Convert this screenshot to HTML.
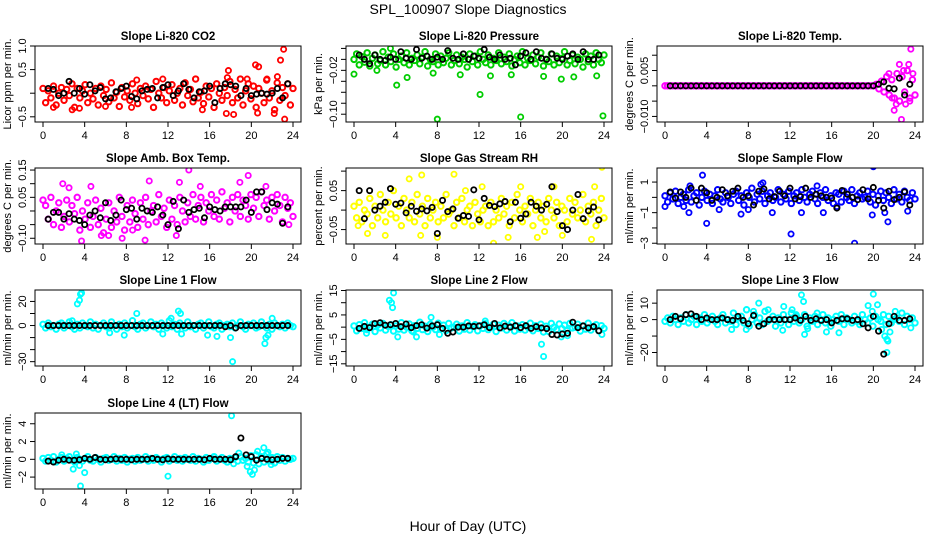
<!DOCTYPE html>
<html><head><meta charset="utf-8"><style>
body{margin:0;background:#fff}
svg{display:block;font-family:"Liberation Sans",sans-serif}
</style></head><body>
<svg id="chart" width="936" height="540" viewBox="0 0 936 540" xmlns="http://www.w3.org/2000/svg">
<rect width="936" height="540" fill="#fff"/>
<text x="468" y="14" text-anchor="middle" font-size="14">SPL_100907  Slope Diagnostics</text>
<text x="468" y="531" text-anchor="middle" font-size="14">Hour of Day (UTC)</text>
</svg>
<script>
const xTicks=[0,4,8,12,16,20,24];
// Panel 1 CO2
const p1Band=[0.1,-0.2,0.05,-0.1,0.15,-0.25,0,0.12,-0.15,0.08,-0.05,0.2,-0.3,0.1,-0.1,0.05,0.18,-0.2,0,-0.12,0.1,-0.25,0.15,-0.05,0.08,-0.18,0.22,-0.1,0.02,-0.28,0.12,-0.08,0.05,-0.15,0.2,0,-0.22,0.1,-0.05,0.15,-0.12,0.08,-0.3,0.25,0,-0.1,0.12,-0.2,0.05,0.18,-0.15,0,0.1,-0.25,0.22,-0.05,0.08,-0.18,0.3,-0.1,0.02,-0.22,0.15,-0.08,0.1,-0.3,0.2,0,-0.15,0.12,-0.05,0.25,-0.2,0.08,-0.1,0.3,-0.25,0.05,0.2,-0.12,0.15,-0.3,0.1,0,-0.2,0.28,-0.1,0.05,-0.35,0.22,-0.15,0.12,-0.05,0.2,-0.25,0.1];
const p1Out=[[17.8,0.48],[17.7,0.33],[20.4,0.6],[20.7,0.56],[22.8,0.7],[23.1,0.93],[23.2,-0.55],[17.6,-0.43],[18.3,-0.45],[20.6,-0.42],[22.2,-0.43],[15.3,-0.35],[2.8,-0.35],[1,-0.3],[3.5,-0.32],[11.5,0.3],[9,0.28],[21.5,0.3],[22.5,0.35],[8.5,-0.3],[6,-0.28],[19.6,0.3]];
const p1Ref=[0.1,0.08,-0.05,0,0.25,0,0.1,-0.02,0.18,0.05,0.12,-0.12,-0.1,0.03,0.1,0.15,-0.07,-0.12,0.05,0.08,0.1,-0.1,0.12,0.18,-0.05,0.05,0.2,0.08,-0.1,0.03,0.05,0.15,-0.2,0.1,0.2,0.18,0.15,-0.05,0.1,-0.05,-0.02,0,-0.02,0,0.1,-0.1,0.2];
// Panel 2 Pressure
const p2Band=[0,0.01,-0.01,0.005,-0.005,0.012,-0.012,0.002,0.008,-0.008,-0.002,0.014,-0.01,0.004,-0.004,0.01,-0.014,0,0.006,-0.006,0.012,-0.01,0.002,-0.002,0.008,-0.008,0.004,0.014,-0.012,0,-0.004,0.01,-0.01,0.006,-0.006,0.002,0.012,-0.01,-0.002,0.008,-0.008,0.004,0,-0.014,0.01,-0.004,0.006,-0.01,0.014,0,-0.006,0.008,-0.01,0.002,-0.002,0.012,-0.008,0.004,-0.004,0.01,-0.012,0,0.006,-0.006,0.014,-0.01,0.002,-0.002,0.008,-0.008,0.004,0.012,-0.012,0,-0.004,0.01,-0.01,0.006,-0.006,0.002,0.014,-0.01,-0.002,0.008,-0.008,0.004,0,-0.014,0.01,-0.004,0.006,-0.01,0.012,0,-0.006,0.008];
const p2Out=[[0,-0.027],[4.1,-0.047],[5.1,-0.033],[8,-0.109],[12.1,-0.064],[16,-0.105],[19.9,-0.036],[23.9,-0.103],[13.1,-0.03],[21.1,-0.032],[23.3,-0.03],[15.1,-0.028],[18.2,-0.031],[10.2,-0.028],[7.6,-0.025],[3.5,0.02],[2.2,-0.02]];
const p2Ref=[0.008,0,-0.008,0.008,0,-0.002,0.004,0,0.014,0.002,0,0.018,0.002,0.006,0,0.004,0,0.016,0.002,0,0.01,0,0.006,0.002,0.018,0.004,0,0.008,0,0.002,-0.01,0.006,0.012,0,0.014,0.002,0,0.01,0.002,0,0.006,0.01,0,0.014,0,0,0.008];
// Panel 3 Temp
const p3Band=[0,0,0,0,0,0,0,0,0,0,0,0,0,0,0,0,0,0,0,0,0,0,0,0,0,0,0,0,0,0,0,0,0,0,0,0,0,0,0,0,0,0,0,0,0,0,0,0,0,0,0,0,0,0,0,0,0,0,0,0,0,0,0,0,0,0,0,0,0,0,0,0,0,0,0,0,0,0,0,0,0,0,0.0005,-0.001,0.0015,-0.002,0.003,-0.003,0.002,-0.004,0.004,-0.005,0.003,-0.002,0.005,-0.004,0.002,-0.003];
const p3Out=[[23.6,0.012],[22.7,-0.011],[22,-0.008],[23.4,0.007],[22.5,0.007],[21.5,0.004],[22.2,-0.006],[23.1,-0.006],[23.8,0.004],[21.8,-0.004],[22.9,0.005],[23.5,-0.005]];
const p3Ref=[0,0,0,0,0,0,0,0,0,0,0,0,0,0,0,0,0,0,0,0,0,0,0,0,0,0,0,0,0,0,0,0,0,0,0,0,0,0,0,0,0.0005,0.0013,-0.0008,-0.001,0.0025,-0.003,0.0005];
// Panel 4 Amb Box Temp
const p4Band=[0.04,0.02,-0.03,0.05,-0.05,0.0,0.03,-0.06,-0.02,0.04,-0.04,0.02,-0.01,0.05,-0.07,0.0,-0.03,0.03,-0.06,-0.02,0.04,-0.05,0.01,-0.08,-0.03,0.03,-0.06,0.0,-0.04,0.05,-0.02,-0.07,0.02,-0.04,0.04,-0.01,-0.06,0.03,-0.03,0.05,-0.05,0.0,0.02,-0.04,0.06,-0.02,0.01,-0.06,0.04,-0.03,0.02,-0.05,0.05,0.0,-0.04,0.03,-0.02,0.06,-0.03,0.02,0.05,-0.04,0.03,0.0,0.06,-0.02,0.04,-0.03,0.07,0.01,0.03,-0.04,0.05,0.0,0.06,-0.02,0.04,0.02,-0.03,0.06,0.01,0.05,-0.02,0.07,0.02,0.04,-0.03,0.05,0.0,0.06,0.02,-0.04,0.05,0.01,0.03,-0.02];
const p4Out=[[3.7,-0.11],[9.8,-0.107],[7.6,-0.1],[14,0.15],[19.7,0.13],[10.2,0.11],[13.1,0.105],[1.9,0.1],[2.5,0.085],[4.6,0.09],[18.9,0.105],[21.4,0.09],[15.1,0.09],[5.6,-0.09],[6.3,-0.09],[12.8,-0.09],[23.6,-0.05],[8.6,-0.07]];
const p4Ref=[-0.03,-0.005,-0.005,-0.03,-0.01,-0.03,-0.035,-0.05,-0.015,0.0,-0.025,0.03,-0.035,-0.015,0.04,0.005,0.01,-0.03,0.01,0.0,-0.005,0.015,-0.015,-0.05,0.035,-0.065,0.04,-0.005,0.005,0.01,-0.025,0.015,0.005,0.0,0.015,0.015,0.015,0.015,0.04,-0.005,0.07,0.07,0.005,0.03,0.025,-0.045,0.015];
// Panel 5 RH
const p5Band=[0.01,-0.02,0.02,-0.03,0.0,-0.01,0.03,-0.04,0.01,-0.02,0.04,0.0,-0.03,0.02,-0.01,0.05,-0.02,0.01,-0.04,0.03,0.0,-0.02,0.02,-0.03,0.04,-0.01,0.01,-0.04,0.03,-0.02,0.0,0.02,-0.03,0.01,-0.02,0.04,-0.01,0.0,-0.04,0.02,-0.02,0.03,-0.03,0.0,0.01,-0.04,0.02,-0.01,-0.03,0.0,0.01,-0.04,0.02,-0.03,0.0,-0.02,0.03,-0.01,0.01,-0.04,0.02,-0.02,0.04,0.0,-0.03,0.01,-0.01,0.03,-0.04,0.0,0.02,-0.02,0.01,-0.03,0.03,0.0,-0.02,0.02,-0.04,0.01,0.0,-0.03,0.03,-0.01,0.02,-0.02,0.0,0.04,-0.03,0.01,-0.01,0.02,-0.04,0.0,0.03,-0.02];
const p5Out=[[13.4,-0.085],[23.8,0.11],[6.5,0.09],[9.6,0.092],[5.3,0.08],[8.0,-0.07],[14.8,-0.07],[17.6,-0.07],[22.8,-0.075],[1.3,-0.06],[3.0,-0.065],[23.1,0.06],[19.2,0.06],[16,0.06],[12.3,0.06],[10.7,0.05],[0.4,-0.04],[6.4,-0.065],[20.0,-0.065],[18.3,-0.055]];
const p5Ref=[0.05,-0.022,0.05,-0.0,0.01,0.02,0.055,0.015,0.018,-0.007,0.01,-0.003,0.003,-0.002,0.007,-0.06,0.025,-0.004,0.003,-0.021,-0.014,-0.016,0.052,-0.025,0.03,0.012,0.009,0.016,0.022,-0.03,0.02,-0.021,-0.01,0.02,0.01,0.0,0.015,0.06,-0.004,-0.04,-0.05,0.0,0.04,-0.022,-0.002,0.008,-0.025];
// Panel 6 Sample flow
const p6Band=[0.1,-0.3,0.3,-0.1,0.4,-0.4,0.0,0.2,-0.2,0.5,-0.3,0.1,0.3,-0.5,0.0,0.4,-0.2,0.2,-0.4,0.1,0.5,-0.1,-0.3,0.3,0.0,-0.4,0.2,0.4,-0.2,0.1,-0.5,0.3,0.0,0.6,-0.3,0.2,-0.1,0.4,-0.4,0.1,0.3,-0.2,0.0,0.5,-0.3,0.2,-0.1,0.4,-0.4,0.1,0.3,-0.2,0.5,0.0,-0.3,0.2,0.4,-0.1,-0.4,0.3,0.0,0.5,-0.2,0.1,-0.4,0.3,0.2,-0.3,0.4,0.0,-0.2,0.5,-0.4,0.1,0.3,-0.1,0.0,0.4,-0.3,0.2,-0.5,0.1,0.4,-0.2,0.3,0.0,-0.4,0.5,-0.1,0.2,-0.3,0.4,0.0,-0.2,0.3,-0.1];
const p6Out=[[3.6,1.45],[4.0,-1.7],[2.3,-1.0],[12.1,-2.4],[18.2,-3.0],[20,2.0],[21.4,-1.6],[15.2,-1.0],[13.1,-1.0],[10.3,-1.0],[7.3,-1.1],[8.0,-0.8],[5.2,-0.8],[19.9,-1.15],[21.1,-1.0],[23.3,-0.9],[9.4,0.95],[9.2,0.85],[2.4,0.75],[14.6,0.75],[0,-0.6],[1.8,-0.6],[16.5,-0.6]];
const p6Ref=[0.35,-0.05,0.35,0.0,0.6,-0.2,0.6,0.3,-0.2,0.0,0.5,0.1,0.4,0.6,0.0,0.1,-0.5,0.4,0.55,-0.1,0.05,0.4,0.1,0.6,-0.1,0.05,0.6,0.0,0.2,0.1,0.0,-0.05,-0.7,0.45,0.2,0.0,-0.15,0.5,-0.1,0.65,-0.2,-0.7,0.4,-0.15,0.0,0.35,-0.5];
// Panel 7 Line 1
const p7Band=[1,-2,2,-1,0,-3,1,2,-2,0,3,-1,-3,1,-2,2,0,-1,3,-2,1,-3,0,2,-1,-2,3,0,-3,1,-1,2,-2,0,4,-1,-3,1,2,-2,0,3,-1,1,-3,2,0,-2,4,-1,1,-3,2,0,-2,3,-1,0,-3,1,2,-2,0,3,-1,-2,1,2,-3,0,1,-1,2,-2,0,3,-1,-3,1,0,2,-2,-1,3,0,-2,1,-3,2,0,-1,1,-2,2,0,-1];
const p7Out=[[3.3,18],[3.5,21],[3.7,27],[3.6,26],[18.2,-30],[21.3,-15],[21.4,-10],[21.6,-8],[13,12],[13.2,10],[9,10],[7.8,-8],[18,-10],[15.8,-8],[16.7,-9],[11.5,-7],[13.3,-7],[12.3,6],[22,6],[2.8,4],[6.4,-6]];
const p7Ref=[0,0,0,0,0,0,0,0,0,0,0,0,0,0,0,0,0,0,0,0,0,0,0,0,0,0,0,0,0,0,0,0,0,0,-1,0,-2,0,0,0,0,0,0,0,0,0,0];
// Panel 8 Line 2
const p8Band=[0.5,-1.5,1,-0.5,1.8,-1,0,1.2,-1.8,0.8,-0.3,1.5,-1.2,0.3,1,-1.6,0.5,-0.8,1.8,-1.2,0,1.3,-1.5,0.6,-0.5,2,-1,0.4,-1.8,1.2,0,-1,1.6,-0.6,0.8,-1.4,1.5,-0.3,0,1.2,-1.6,0.5,-0.8,1.8,-1.2,0.3,1,-1.5,0.6,-0.5,1.4,-1,0,1.2,-1.8,0.8,-0.3,1.5,-1.2,0.4,1.8,-1.6,0.5,-0.8,1,-1.2,0,1.6,-1.5,0.6,-0.5,1.2,-2,0.4,-1.8,1.5,0,-1,1.3,-0.6,0.8,-1.4,1.5,-0.3,0,1.2,-1.6,0.5,-0.8,1.6,-1.2,0.3,1,-1.5,0.6,-0.5];
const p8Out=[[3.4,11],[3.6,10],[3.7,8],[3.8,14],[18,-7],[18.2,-12],[4.2,-4],[6,-4],[7.4,4],[12.6,2.5],[8.2,-3],[19.9,-4],[23.8,-3],[5.7,-2],[1.2,-2.5],[20.5,-3.5]];
const p8Ref=[-0.5,0.3,-0.2,1.5,1.8,0.8,1,1.5,0.2,1.3,-0.2,0.6,1,-0.4,0.5,1,-0.5,-2.5,-2,0,0,0.5,0.3,0.5,1,-0.2,1.5,-0.3,0.4,0,0.6,-0.2,0.6,-0.5,0.2,-0.3,-0.6,-3,-3.2,-2.8,-2.5,2,-0.2,0.5,-0.3,0.2,-1.5];
// Panel 9 Line 3
const p9Band=[-1,1,-2,2,0,-3,1,-1,3,-2,0,2,-3,1,-1,3,-2,0,2,-1,-3,1,3,-2,0,-1,4,-3,1,2,-2,6,-4,0,3,-2,1,-3,5,-1,0,2,-4,1,-2,3,0,-3,4,-1,2,-2,0,3,-4,1,-1,2,-3,0,3,-2,1,-4,0,2,-1,3,-3,1,0,-2,2,-1,-3,3,0,-2,1,-4,2,0,-1,3,-3,2,-2,0,1,-1,4,-3,2,0,1,-2];
const p9Out=[[7.8,-6],[8.5,5],[9,10],[9.9,6],[11.4,8],[12.2,6],[13.1,15],[13.3,11],[13.4,-9],[13.7,-5.5],[12.6,3],[11.3,-6.5],[15.5,-7.5],[16.7,-8],[19.5,8.5],[19.9,5],[20,15.5],[20.4,9],[20.8,-6],[21.1,-10],[21.3,-12],[21.4,-13],[21.6,-7.5],[21.3,-20],[6.4,-6],[23.6,-5],[22.1,5],[14.6,4]];
const p9Ref=[0,2,0.5,3,3.5,2,0,1,0,0,1,0,-0.5,2,-0.5,-2.5,2.5,-4,-2.5,0,0,0,0,0,1,-0.5,2,-0.5,0.5,-0.5,0,-2,-0.5,0.5,0.5,-0.5,0,-2.5,-5,2,-7,-21,-2.5,2,-0.5,-0.5,0.5];
// Panel 10 Line 4
const p10Band=[0.1,-0.2,0.2,-0.1,0.3,-0.3,0,0.2,-0.2,0.1,0.3,-0.1,-0.3,0.2,0,-0.2,0.1,0.3,-0.1,-0.2,0.2,0,-0.3,0.1,0.2,-0.1,0,0.3,-0.2,0.1,-0.1,0.2,-0.3,0,0.1,-0.2,0.2,-0.1,0,0.3,-0.2,0.1,-0.1,0.2,0,-0.3,0.1,0.2,-0.2,0,0.3,-0.1,0.1,-0.2,0.2,0,-0.1,0.3,-0.2,0.1,0,-0.3,0.2,-0.1,0.1,0.3,-0.2,0,0.2,-0.1,-0.3,0.1,0,0.2,-0.2,0.3,-0.1,0.1,-0.3,0.4,-0.4,0.5,-0.5,0.3,-0.3,0.6,-0.2,0.2,-0.4,0.3,-0.1,0.2,-0.2,0.1,0,0.1];
const p10Out=[[18.1,4.9],[3.6,-3],[2.9,-1.1],[4,-1.5],[12,-1.9],[19.6,-0.8],[19.9,-1.4],[20.1,-1.7],[20.3,-1.2],[21.2,1.3],[20.6,0.9],[21.6,0.8],[1.8,0.5],[3.2,0.6],[18.8,0.7],[3.5,-0.7],[18.3,-0.5],[21.9,-0.6]];
const p10Ref=[-0.2,-0.3,-0.1,0,-0.1,-0.1,-0.05,0.1,0,0.2,0,-0.05,0,0.05,0,0,-0.05,0,0,0,0.1,0,-0.05,0.05,0,0,0,0,0,0,-0.05,0.1,0,0,0,-0.05,0.3,2.4,0.5,0.3,-0.1,0.1,0,-0.05,0,0.1,0.1];

const panels=[
 {name:'co2',title:'Slope Li-820 CO2',ylab:'Licor ppm per min.',col:0,row:0,ymin:-0.61,ymax:1.0,ticks:[-0.5,0,0.5,1.0],labs:['-0.5','','0.5','1.0'],color:'#ff0000',band:p1Band,out:p1Out,ref:p1Ref},
 {name:'pressure',title:'Slope Li-820 Pressure',ylab:'kPa per min.',col:1,row:0,ymin:-0.1142,ymax:0.0244,ticks:[-0.10,-0.08,-0.06,-0.04,-0.02,0,0.02],labs:['-0.10','','','','-0.02','',''],color:'#00cd00',band:p2Band,out:p2Out,ref:p2Ref},
 {name:'temp',title:'Slope Li-820 Temp.',ylab:'degrees C per min.',col:2,row:0,ymin:-0.01182,ymax:0.01301,ticks:[-0.010,-0.005,0,0.005,0.010],labs:['-0.010','','','0.005',''],color:'#ff00ff',band:p3Band,out:p3Out,ref:p3Ref},
 {name:'amb-box-temp',title:'Slope Amb. Box Temp.',ylab:'degrees C per min.',col:0,row:1,ymin:-0.121,ymax:0.1575,ticks:[-0.10,-0.05,0,0.05,0.10,0.15],labs:['-0.10','','','0.05','','0.15'],color:'#ff00ff',band:p4Band,out:p4Out,ref:p4Ref},
 {name:'gas-stream-rh',title:'Slope Gas Stream RH',ylab:'percent per min.',col:1,row:1,ymin:-0.087,ymax:0.108,ticks:[-0.05,0,0.05,0.10],labs:['-0.05','','0.05',''],color:'#ffff00',band:p5Band,out:p5Out,ref:p5Ref},
 {name:'sample-flow',title:'Slope Sample Flow',ylab:'ml/min per min.',col:2,row:1,ymin:-3.05,ymax:1.92,ticks:[-3,-2,-1,0,1],labs:['-3','','-1','','1'],color:'#0000ff',band:p6Band,out:p6Out,ref:p6Ref},
 {name:'line1-flow',title:'Slope Line 1 Flow',ylab:'ml/min per min.',col:0,row:2,ymin:-33.6,ymax:29.5,ticks:[-30,-20,-10,0,10,20],labs:['-30','','','0','','20'],color:'#00ffff',band:p7Band,out:p7Out,ref:p7Ref},
 {name:'line2-flow',title:'Slope Line 2 Flow',ylab:'ml/min per min.',col:1,row:2,ymin:-15.9,ymax:15.2,ticks:[-15,-10,-5,0,5,10,15],labs:['-15','','-5','','5','','15'],color:'#00ffff',band:p8Band,out:p8Out,ref:p8Ref},
 {name:'line3-flow',title:'Slope Line 3 Flow',ylab:'ml/min per min.',col:2,row:2,ymin:-28.2,ymax:18,ticks:[-20,-10,0,10],labs:['-20','','0','10'],color:'#00ffff',band:p9Band,out:p9Out,ref:p9Ref},
 {name:'line4-flow',title:'Slope Line 4 (LT) Flow',ylab:'ml/min per min.',col:0,row:3,ymin:-3.34,ymax:5.21,ticks:[-2,0,2,4],labs:['-2','0','2','4'],color:'#00ffff',band:p10Band,out:p10Out,ref:p10Ref}
];
const colLeft=[35,346,657], rowTop=[46,168,290,413], W=266, H=76;
const NS='http://www.w3.org/2000/svg';
const svg=document.getElementById('chart');
function mk(tag,attrs,parent){const e=document.createElementNS(NS,tag);for(const k in attrs)e.setAttribute(k,attrs[k]);(parent||svg).appendChild(e);return e;}
panels.forEach(p=>{
 const L=colLeft[p.col],T=rowTop[p.row];
 const xs=h=>L+8+h*(W-16)/24;
 const ys=v=>T+H-(v-p.ymin)/(p.ymax-p.ymin)*H;
 const g=mk('g',{});
 
 
 const cl=mk('clipPath',{id:'c-'+p.name},g);
 mk('rect',{x:L,y:T,width:W,height:H},cl);
 const pts=mk('g',{'clip-path':'url(#c-'+p.name+')'},g);
 
 
 const n=p.band.length;
 p.band.forEach((v,i)=>{const c=mk('circle',{cx:xs(i*24/(n-1)),cy:ys(v),r:2.7,fill:'none',stroke:p.color,'stroke-width':2},pts);
  
  });
 p.out.forEach(d=>{const c=mk('circle',{cx:xs(d[0]),cy:ys(d[1]),r:2.6,fill:'none',stroke:p.color,'stroke-width':1.8},pts);
  
  });
 p.ref.forEach((v,i)=>{const c=mk('circle',{cx:xs(0.5+i*0.5),cy:ys(v),r:2.6,fill:'none',stroke:'#000','stroke-width':1.8},pts);
  
  });
 const box=mk('rect',{x:L,y:T,width:W,height:H,fill:'none',stroke:'#000','stroke-width':1},g);
 
 
 const t=mk('text',{x:L+W/2,y:T-6,'text-anchor':'middle','font-size':11.5,'font-weight':'bold'},g);
 t.textContent=p.title;
 
 
 xTicks.forEach(h=>{mk('line',{x1:xs(h),x2:xs(h),y1:T+H,y2:T+H+5,stroke:'#000'},g);
  const tx=mk('text',{x:xs(h),y:T+H+17,'text-anchor':'middle','font-size':11},g);
  tx.textContent=String(h);
  
  });
 p.ticks.forEach((v,i)=>{const y=ys(v);mk('line',{x1:L-5,x2:L,y1:y,y2:y,stroke:'#000'},g);
  if(p.labs[i]){const ty=mk('text',{x:L-9,y:y,'text-anchor':'middle','font-size':11,transform:'rotate(-90 '+(L-9)+' '+y+')'},g);
   ty.textContent=p.labs[i].replace('-','\u2212');
   
   }});
 const yl=mk('text',{x:L-24,y:T+H/2,'text-anchor':'middle','font-size':11,transform:'rotate(-90 '+(L-24)+' '+(T+H/2)+')'},g);
 yl.textContent=p.ylab;
 
 
});
</script>
</body></html>
